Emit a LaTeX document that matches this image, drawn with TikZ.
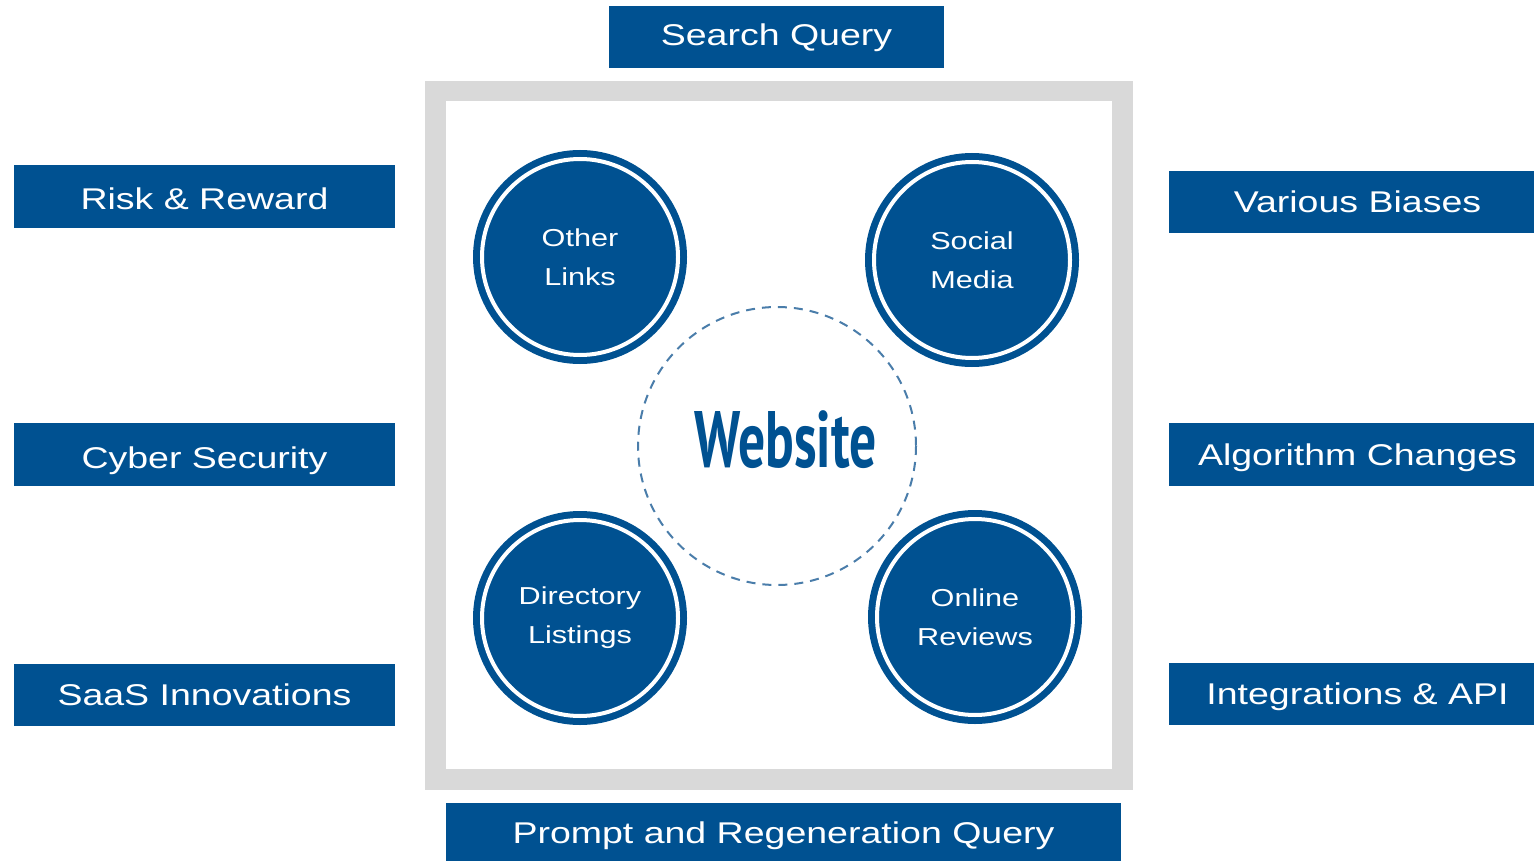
\documentclass[tikz,border=0pt]{standalone}
\usepackage{fontspec}
\setmainfont{Liberation Sans}[FakeStretch=1.25]
\newfontfamily\webfont{PT Sans}
\definecolor{mainblue}{RGB}{0,81,145}
\definecolor{dashblue}{RGB}{74,125,170}
\definecolor{framegray}{RGB}{217,217,217}
\tikzset{
  labelbox/.style={fill=mainblue, text=white, inner sep=0pt, text height=21.5pt, text depth=0pt,
    font=\fontsize{30}{36}\selectfont},
  lowtext/.style={text height=27pt},
  hightext/.style={text height=17pt},
  bubble/.style={circle, fill=mainblue, draw=white, line width=4pt, minimum size=196pt, inner sep=0pt,
    preaction={draw=mainblue, line width=18pt}},
  bubbletext/.style={text=white, align=center, font=\fontsize{24.5}{39}\selectfont},
}
\begin{document}
\begin{tikzpicture}[x=1pt,y=-1pt]
\useasboundingbox (0,0) rectangle (1534,861);
% frame
\draw[framegray, line width=20.5pt] (435.5,91) rectangle (1122.5,779.5);
% top and bottom boxes
\node[labelbox, hightext, minimum width=335pt, minimum height=62pt] (sq) at (776.5,37) {Search Query};
\node[labelbox, minimum width=675pt, minimum height=60pt] (pr) at (783.5,833) {Prompt and Regeneration Query};
% left
\node[labelbox, lowtext, minimum width=381pt, minimum height=63pt] (rr) at (204.5,196.5) {Risk \& Reward};
\node[labelbox, lowtext, minimum width=381pt, minimum height=63pt] (cs) at (204.5,454.5) {Cyber Security};
\node[labelbox, minimum width=381pt, minimum height=62pt] (si) at (204.5,695) {SaaS Innovations};
% right (boxes run past the right edge)
\node[labelbox, minimum width=377pt, minimum height=62pt] (vb) at (1357.5,202) {Various Biases};
\node[labelbox, minimum width=377pt, minimum height=63pt] (ac) at (1357.5,454.5) {Algorithm Changes};
\node[labelbox, minimum width=377pt, minimum height=62pt] (ia) at (1357.5,694) {Integrations \& API};
% dashed centre
\draw[dashblue, line width=2pt, dash pattern=on 9pt off 7pt] (777,446) circle (139);
\node[text=mainblue, font=\webfont\bfseries\fontsize{80}{80}\selectfont] (web) at (786,440) {\scalebox{0.67}[1]{Website}};
% bubbles
\node[bubble] (ol) at (580,257) {};
\node[bubbletext] (olt) at (ol.center) {Other\\Links};
\node[bubble] (sm) at (972,260) {};
\node[bubbletext] (smt) at (sm.center) {Social\\Media};
\node[bubble] (dl) at (580,618) {};
\node[bubbletext] (dlt) at (dl.center) {Directory\\Listings};
\node[bubble] (or) at (975,617) {};
\node[bubbletext] (ort) at (or.center) {Online\\Reviews};
\end{tikzpicture}
\end{document}
